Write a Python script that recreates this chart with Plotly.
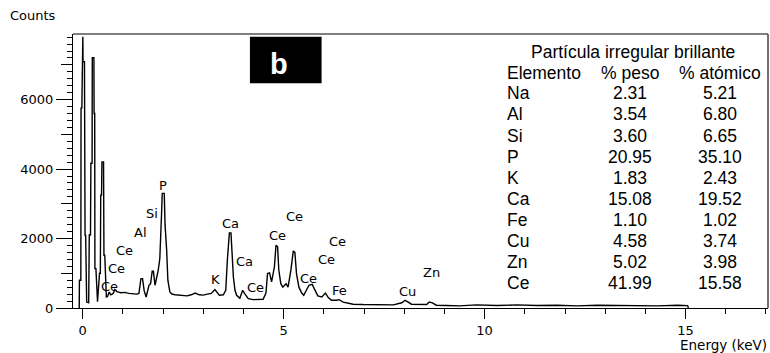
import plotly.graph_objects as go

# ---------------- data ----------------
energy_keV = [
    -0.085, -0.08, -0.045, -0.04, -0.02, -0.005, 0.005, 0.01, 0.045, 0.06, 0.075, 0.1, 0.15,
    0.165, 0.195, 0.205, 0.235, 0.24, 0.28, 0.285, 0.30, 0.305, 0.33, 0.37,
    0.42, 0.44, 0.45, 0.47, 0.48, 0.52, 0.53, 0.55, 0.57, 0.59,
    0.62, 0.66, 0.70, 0.76, 0.80, 0.85, 0.95, 1.05, 1.15, 1.25, 1.35, 1.40,
    1.45, 1.49, 1.53, 1.58, 1.65, 1.69, 1.73, 1.76, 1.80, 1.88, 1.92, 1.965, 1.98, 2.03, 2.05,
    2.09, 2.12, 2.17, 2.22, 2.3, 2.42,
    2.5, 2.6, 2.7, 2.8, 2.9, 3.0, 3.1, 3.2, 3.29, 3.34, 3.4, 3.5, 3.56, 3.6, 3.65, 3.69, 3.71,
    3.75, 3.79, 3.83, 3.91, 3.98, 4.04, 4.12, 4.24, 4.41, 4.49, 4.56, 4.6, 4.65, 4.7, 4.77,
    4.81, 4.85, 4.88, 4.93, 4.98, 5.06, 5.11, 5.18, 5.24, 5.28, 5.32, 5.38, 5.45, 5.5, 5.57,
    5.63, 5.71, 5.78, 5.85, 5.95, 6.04, 6.11, 6.19, 6.32, 6.38, 6.48, 6.61, 6.73, 6.98, 7.4,
    7.73, 7.94, 8.02, 8.1, 8.18, 8.56, 8.62, 8.7, 8.8, 9.05, 9.37, 9.8, 10.3, 10.8, 11.3,
    11.8, 12.3, 12.8, 13.3, 13.8, 14.3, 14.8, 15.05, 15.07,
]
counts = [
    0, 800, 800, 5755, 5755, 7810, 7810, 7090, 7090, 2090, 2090, 170, 150,
    2100, 2100, 4170, 4170, 7205, 7205, 5600, 5600, 1135, 1135, 180,
    1000, 1000, 3250, 3250, 4207, 4207, 1520, 1520, 605, 317,
    330, 460, 380, 420, 530, 470, 440, 450, 420, 410, 400, 420,
    847, 847, 500, 317, 655, 703, 1060, 1060, 655, 1086, 1425, 2770, 3300, 3300, 2400,
    1663, 800, 461, 403, 380, 366,
    370, 350, 380, 432, 380, 370, 400, 420, 530, 460, 366, 380, 510, 1375, 2161, 2161, 1663,
    893, 510, 366, 280, 510, 400, 270, 240, 240, 250, 430, 990, 1010, 750, 1180,
    1807, 1760, 1086, 700, 600, 700, 600, 1086, 1643, 1600, 990, 600, 430, 365, 510,
    654, 680, 510, 350, 320, 430, 300, 222, 222, 240, 170, 150, 110, 100, 100,
    90, 150, 222, 170, 110, 100, 170, 150, 80, 70, 60, 90, 70, 90, 70,
    80, 60, 80, 70, 80, 60, 80, 70, 0,
]

# peak identification labels
peak_labels = ["Ce", "Ce", "Ce", "Al", "Si", "P", "K", "Ca", "Ca", "Ce", "Ce", "Ce",
               "Ce", "Ce", "Ce", "Fe", "Cu", "Zn"]
peak_label_E = [0.675, 0.84, 1.05, 1.44, 1.72, 1.99, 3.30, 3.675, 4.03, 4.30, 4.84, 5.26,
                5.61, 6.07, 6.34, 6.40, 8.09, 8.675]
peak_label_counts = [609, 1151, 1657, 2180, 2723, 3514, 820, 2420, 1343, 580, 2086, 2637,
                     849, 1407, 1926, 514, 486, 1020]

# composition table
table_title = "Partícula irregular brillante"
table_headers = ["Elemento", "% peso", "% atómico"]
elements = ["Na", "Al", "Si", "P", "K", "Ca", "Fe", "Cu", "Zn", "Ce"]
peso = ["2.31", "3.54", "3.60", "20.95", "1.83", "15.08", "1.10", "4.58", "5.02", "41.99"]
atomico = ["5.21", "6.80", "6.65", "35.10", "2.43", "19.52", "1.02", "3.74", "3.98", "15.58"]

y_major_ticks = [0, 2000, 4000, 6000]
y_mid_ticks = [1000, 3000, 5000, 7000]

# ---------------- layout helpers (pixel -> paper) ----------------
L, R, T, B = 73, 768.3, 34, 308
def xp(px):
    return (px - L) / (R - L)
def yp(py):
    return (B - py) / (B - T)

X_RANGE = [-0.24, 17.05]
Y_RANGE = [0, 7890]

fig = go.Figure()
fig.add_trace(go.Scatter(
    x=energy_keV, y=counts, mode="lines",
    line=dict(color="black", width=1.4),
    hoverinfo="skip", showlegend=False,
))
# helper trace so the overlaid tick axis is drawn
fig.add_trace(go.Scatter(x=[None], y=[None], yaxis="y2", mode="lines",
                         showlegend=False, hoverinfo="skip"))

tickfont = dict(family="DejaVu Sans", size=13, color="black")

fig.update_layout(
    width=770, height=353,
    margin=dict(l=L, r=770 - R, t=T, b=353 - B),
    paper_bgcolor="white", plot_bgcolor="white",
    showlegend=False,
    xaxis=dict(
        range=X_RANGE, showgrid=False, zeroline=False,
        showline=True, linecolor="black", linewidth=1,
        ticks="outside", ticklen=10, tickwidth=1, tickcolor="black",
        tick0=0, dtick=5, tickfont=tickfont,
        minor=dict(ticks="outside", dtick=1, tick0=0, ticklen=5,
                   tickcolor="black", tickwidth=1, showgrid=False),
    ),
    yaxis=dict(
        range=Y_RANGE, showgrid=False, zeroline=False,
        showline=True, linecolor="black", linewidth=1,
        ticks="outside", ticklen=16, tickwidth=1, tickcolor="black",
        tickvals=y_major_ticks, ticktext=[str(v) for v in y_major_ticks],
        tickfont=tickfont,
        minor=dict(ticks="outside", dtick=200, tick0=0, ticklen=5,
                   tickcolor="black", tickwidth=1, showgrid=False),
    ),
    yaxis2=dict(
        range=Y_RANGE, overlaying="y", side="left", showgrid=False,
        zeroline=False, showline=False, showticklabels=False,
        ticks="outside", ticklen=11, tickwidth=1, tickcolor="black",
        tickvals=y_mid_ticks,
    ),
)

shapes = [
    # top and right frame lines
    dict(type="line", xref="paper", yref="paper", x0=0, x1=1, y0=1, y1=1,
         line=dict(color="#555555", width=1.5)),
    dict(type="line", xref="paper", yref="paper", x0=1, x1=1, y0=0, y1=1,
         line=dict(color="#444444", width=1.5)),
    # black box behind the panel letter
    dict(type="rect", xref="paper", yref="paper",
         x0=xp(250), x1=xp(321.7), y0=yp(83.3), y1=yp(36.7),
         fillcolor="black", line=dict(width=0)),
]
fig.update_layout(shapes=shapes)

ann = []
ann.append(dict(text="Counts", xref="paper", yref="paper", x=xp(8), y=yp(16),
                xanchor="left", yanchor="middle", showarrow=False,
                font=dict(family="DejaVu Sans", size=13, color="black")))
ann.append(dict(text="Energy (keV)", xref="paper", yref="paper", x=xp(769), y=yp(345),
                xanchor="right", yanchor="middle", showarrow=False,
                font=dict(family="DejaVu Sans", size=13.5, color="black")))
ann.append(dict(text="<b>b</b>", xref="paper", yref="paper", x=xp(279), y=yp(64),
                xanchor="center", yanchor="middle", showarrow=False,
                font=dict(family="Liberation Sans", size=29, color="white")))

for lab, e, c in zip(peak_labels, peak_label_E, peak_label_counts):
    ann.append(dict(text=lab, x=e, y=c, xref="x", yref="y", showarrow=False,
                    xanchor="center", yanchor="middle",
                    font=dict(family="DejaVu Sans", size=13, color="black")))

tfont = dict(family="Liberation Sans", size=17.5, color="black")
ann.append(dict(text=table_title, xref="paper", yref="paper", x=xp(633), y=yp(51.7),
                xanchor="center", yanchor="middle", showarrow=False, font=tfont))
hdr_x = [(505, "left"), (630, "center"), (720, "center")]
for (hx, anc), h in zip(hdr_x, table_headers):
    ann.append(dict(text=h, xref="paper", yref="paper", x=xp(hx), y=yp(73),
                    xanchor=anc, yanchor="middle", showarrow=False, font=tfont))
row0, step = 93.3, 21.1
for i, (el, p, a) in enumerate(zip(elements, peso, atomico)):
    ry = yp(row0 + i * step)
    for (hx, anc), txt in zip(hdr_x, [el, p, a]):
        ann.append(dict(text=txt, xref="paper", yref="paper", x=xp(hx), y=ry,
                        xanchor=anc, yanchor="middle", showarrow=False, font=tfont))

fig.update_layout(annotations=ann)
fig.write_html("out.html", config={"displayModeBar": False},
               post_script="document.body.style.margin='0';document.body.style.overflow='hidden';")
